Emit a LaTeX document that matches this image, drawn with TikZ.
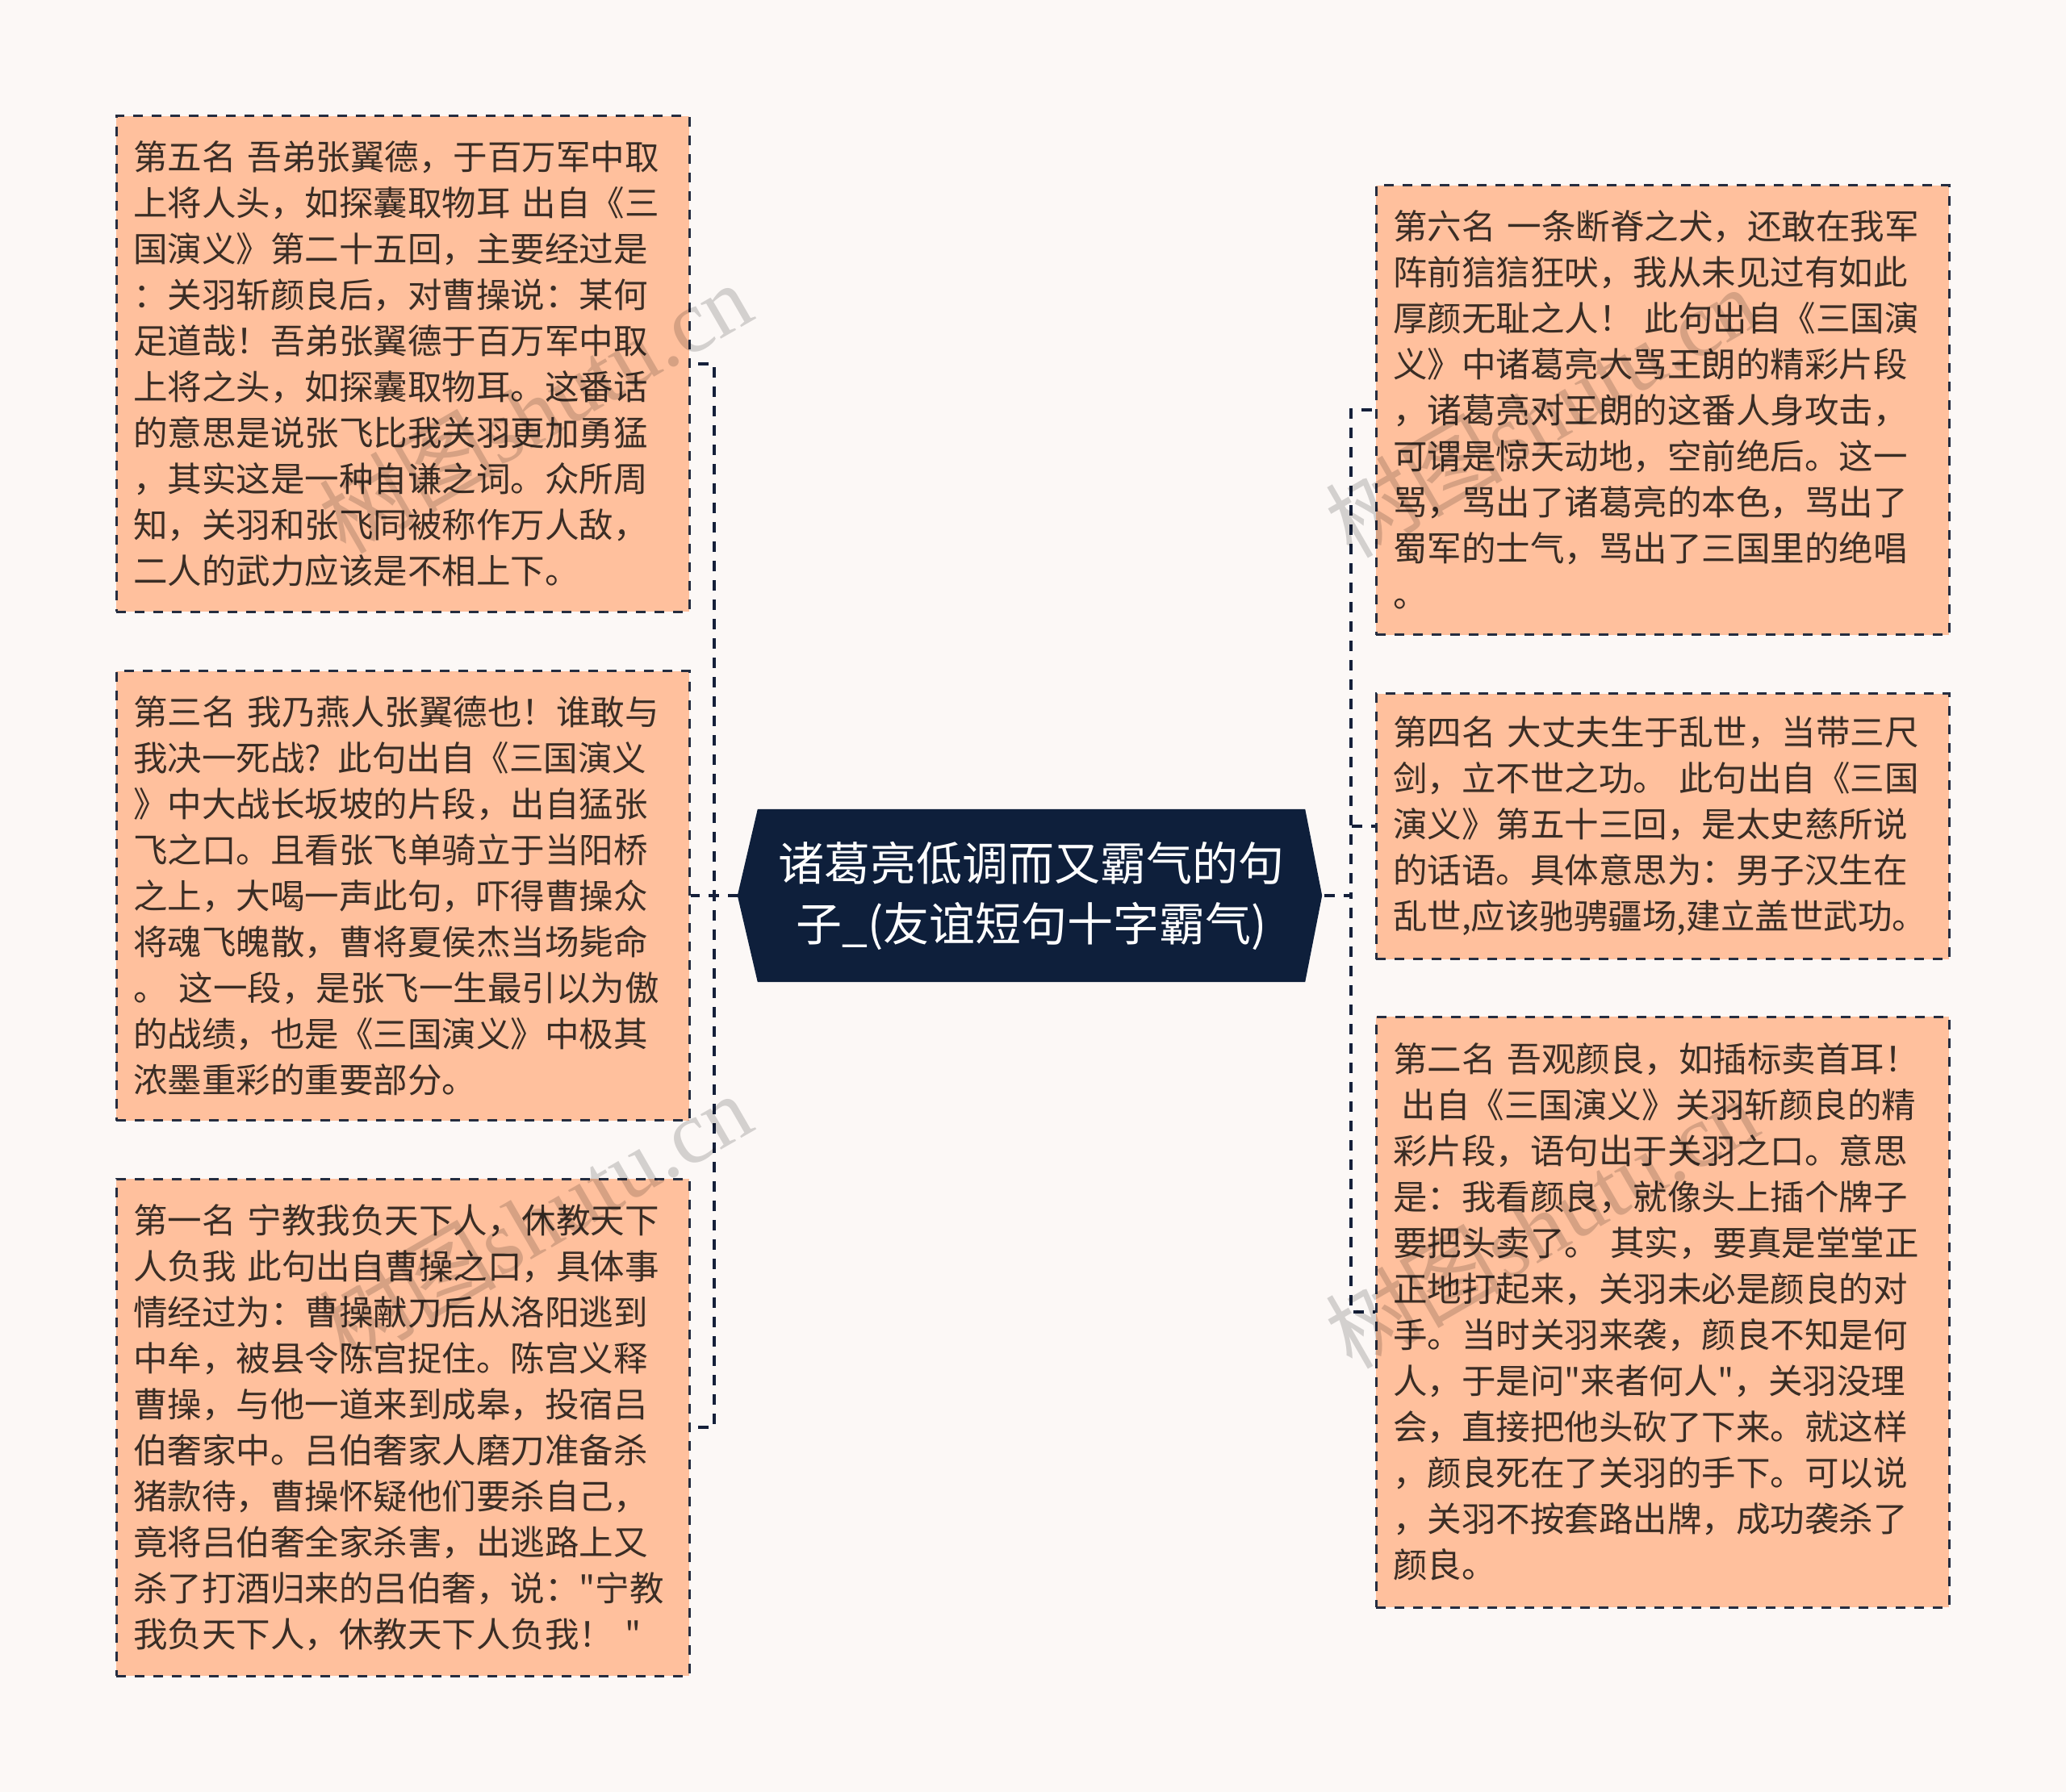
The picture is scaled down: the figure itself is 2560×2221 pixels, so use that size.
\documentclass[tikz,border=0pt]{standalone}
\usepackage{fontspec}
\setmainfont{Noto Sans CJK SC}[Ligatures=TeXOff]
\newfontfamily\wmlatin{Liberation Serif}
\usetikzlibrary{backgrounds}
\definecolor{pagebg}{HTML}{FCF8F6}
\definecolor{boxfill}{HTML}{FFC09D}
\definecolor{boxline}{HTML}{252D40}
\definecolor{connline}{HTML}{15203A}
\definecolor{hubfill}{HTML}{0E1F3B}
\definecolor{bodytext}{HTML}{3A2D25}
\tikzset{
  leafbox/.style={rectangle, draw=boxline, fill=boxfill, line width=3pt,
    dash pattern=on 12pt off 11pt, text=bodytext,
    font=\fontsize{42.5}{57}\selectfont, align=left, text width=668pt,
    inner xsep=21pt, inner ysep=0pt, anchor=center},
  hub/.style={rectangle, minimum width=678pt, minimum height=214pt, text=white,
    font=\fontsize{57}{75}\selectfont, align=center, inner sep=0pt},
  conn/.style={draw=connline, line width=4.7pt, dash pattern=on 12.5pt off 11.5pt},
  wmark/.style={text=black, opacity=0.16, rotate=30,
    font=\fontsize{110}{110}\selectfont, inner sep=0pt}
}
\begin{document}
\begin{tikzpicture}[x=1pt,y=-1pt]
\useasboundingbox (0,0) rectangle (2560,2221);

\node[hub] (c) at (1278,1110) {诸葛亮低调而又霸气的句\\子\_(友谊短句十字霸气)};

\node[leafbox, minimum height=614pt] (L1) at (499,451) {第五名 吾弟张翼德，于百万军中取\\上将人头，如探囊取物耳 出自《三\\国演义》第二十五回，主要经过是\\：关羽斩颜良后，对曹操说：某何\\足道哉！吾弟张翼德于百万军中取\\上将之头，如探囊取物耳。这番话\\的意思是说张飞比我关羽更加勇猛\\，其实这是一种自谦之词。众所周\\知，关羽和张飞同被称作万人敌，\\二人的武力应该是不相上下。};

\node[leafbox, minimum height=557pt] (L2) at (499,1110) {第三名 我乃燕人张翼德也！谁敢与\\我决一死战? 此句出自《三国演义\\》中大战长坂坡的片段，出自猛张\\飞之口。且看张飞单骑立于当阳桥\\之上，大喝一声此句，吓得曹操众\\将魂飞魄散，曹将夏侯杰当场毙命\\。 这一段，是张飞一生最引以为傲\\的战绩，也是《三国演义》中极其\\浓墨重彩的重要部分。};

\node[leafbox, minimum height=616pt] (L3) at (499,1769) {第一名 宁教我负天下人，休教天下\\人负我 此句出自曹操之口，具体事\\情经过为：曹操献刀后从洛阳逃到\\中牟，被县令陈宫捉住。陈宫义释\\曹操，与他一道来到成皋，投宿吕\\伯奢家中。吕伯奢家人磨刀准备杀\\猪款待，曹操怀疑他们要杀自己，\\竟将吕伯奢全家杀害，出逃路上又\\杀了打酒归来的吕伯奢，说："宁教\\我负天下人，休教天下人负我！ "};

\node[leafbox, minimum height=557pt] (R1) at (2060,508) {第六名 一条断脊之犬，还敢在我军\\阵前狺狺狂吠，我从未见过有如此\\厚颜无耻之人！ 此句出自《三国演\\义》中诸葛亮大骂王朗的精彩片段\\，诸葛亮对王朗的这番人身攻击，\\可谓是惊天动地，空前绝后。这一\\骂，骂出了诸葛亮的本色，骂出了\\蜀军的士气，骂出了三国里的绝唱\\。};

\node[leafbox, minimum height=329pt] (R2) at (2060,1024) {第四名 大丈夫生于乱世，当带三尺\\剑，立不世之功。 此句出自《三国\\演义》第五十三回，是太史慈所说\\的话语。具体意思为：男子汉生在\\乱世,应该驰骋疆场,建立盖世武功。};

\node[leafbox, minimum height=732pt] (R3) at (2060,1626) {第二名 吾观颜良，如插标卖首耳！\\\hspace*{0.25em}出自《三国演义》关羽斩颜良的精\\彩片段，语句出于关羽之口。意思\\是：我看颜良，就像头上插个牌子\\要把头卖了。 其实，要真是堂堂正\\正地打起来，关羽未必是颜良的对\\手。当时关羽来袭，颜良不知是何\\人，于是问"来者何人"，关羽没理\\会，直接把他头砍了下来。就这样\\，颜良死在了关羽的手下。可以说\\，关羽不按套路出牌，成功袭杀了\\颜良。};

\coordinate (tL) at (885,1110);
\coordinate (tR) at (1674,1110);

\begin{scope}[on background layer]
  \fill[pagebg] (0,0) rectangle (2560,2221);
  \draw[conn] (c.west) -- (tL) |- (L1.east);
  \draw[conn] (c.west) -- (tL) -- (L2.east);
  \draw[conn] (c.west) -- (tL) |- (L3.east);
  \draw[conn] (c.east) -- (tR) |- (R1.west);
  \draw[conn] (c.east) -- (tR) |- (R2.west);
  \draw[conn] (c.east) -- (tR) |- (R3.west);
  \fill[hubfill] (c.north west) -- (c.north east) -- ([xshift=21pt]c.east)
    -- (c.south east) -- (c.south west) -- ([xshift=-25pt]c.west) -- cycle;
\end{scope}

\node[wmark] (w1) at (663,505) {树图{\wmlatin shutu.cn}};
\node[wmark] (w2) at (663,1510) {树图{\wmlatin shutu.cn}};
\node[wmark] (w3) at (1910,510) {树图{\wmlatin shutu.cn}};
\node[wmark] (w4) at (1910,1515) {树图{\wmlatin shutu.cn}};
\end{tikzpicture}
\end{document}
